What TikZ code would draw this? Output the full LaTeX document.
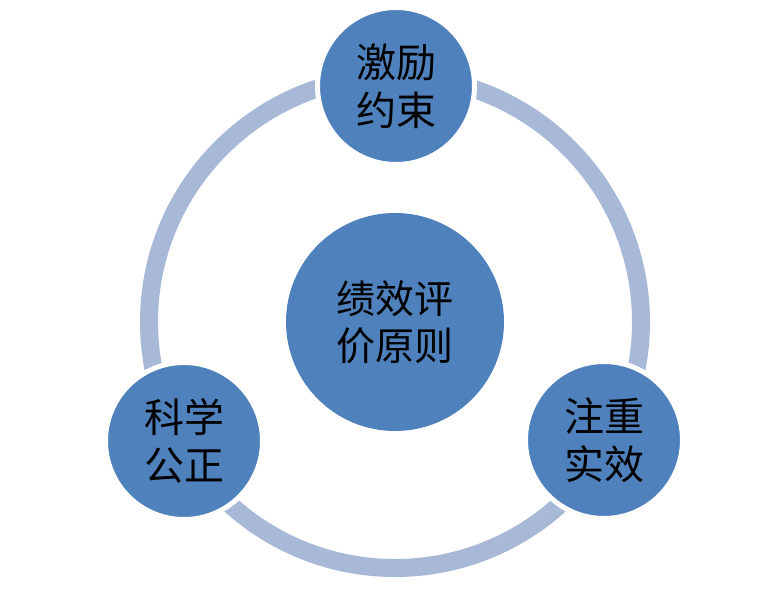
\documentclass[tikz,border=0pt]{standalone}
\usepackage{fontspec}
\newfontfamily\cjk{Noto Sans CJK SC}
\definecolor{circblue}{RGB}{79,129,189}
\definecolor{ringblue}{RGB}{167,185,215}
\tikzset{
  bigdot/.style={circle, fill=circblue, draw=white, line width=5pt, minimum size=157pt, inner sep=0pt,
    align=center, text=black, font=\cjk\fontsize{40}{48}\selectfont},
  hubdot/.style={circle, fill=circblue, minimum size=218pt, inner sep=0pt,
    align=center, text=black, font=\cjk\fontsize{39}{47}\selectfont},
}
\begin{document}
\begin{tikzpicture}[x=1pt,y=-1pt]
\useasboundingbox (0,0) rectangle (771,599);
\coordinate (ringc) at (395,322);
\draw[ringblue, line width=18pt] (ringc) circle[radius=246];
\node[hubdot] (hub) at (395,322) {绩效评\\价原则};
\node[bigdot] (top) at (396,86) {激励\\约束};
\node[bigdot] (left) at (184,441) {科学\\公正};
\node[bigdot] (right) at (604,440) {注重\\实效};
\end{tikzpicture}
\end{document}
